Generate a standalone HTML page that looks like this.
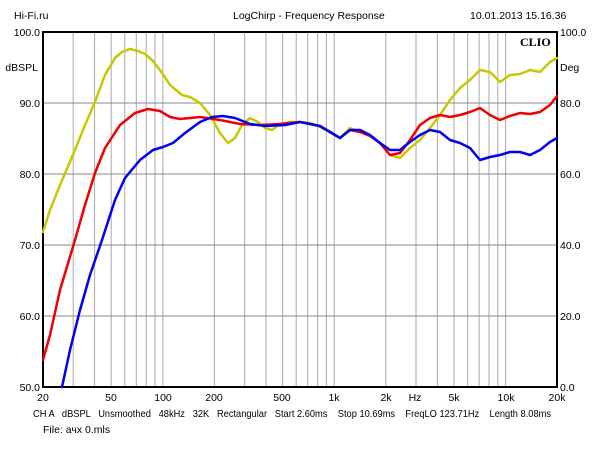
<!DOCTYPE html>
<html><head><meta charset="utf-8"><style>
body{margin:0;background:#fff;width:600px;height:450px;overflow:hidden}
svg{display:block}
text{font-family:"Liberation Sans",sans-serif;font-size:10.5px;fill:#000}
</style></head><body>
<svg width="600" height="450" xmlns="http://www.w3.org/2000/svg">
<g stroke="#aaa" stroke-width="1">
<line x1="73.2" y1="32" x2="73.2" y2="387"/><line x1="94.6" y1="32" x2="94.6" y2="387"/><line x1="111.2" y1="32" x2="111.2" y2="387"/><line x1="124.8" y1="32" x2="124.8" y2="387"/><line x1="136.3" y1="32" x2="136.3" y2="387"/><line x1="146.2" y1="32" x2="146.2" y2="387"/><line x1="155" y1="32" x2="155" y2="387"/><line x1="162.8" y1="32" x2="162.8" y2="387"/>
<line x1="214.4" y1="32" x2="214.4" y2="387"/><line x1="244.6" y1="32" x2="244.6" y2="387"/><line x1="266" y1="32" x2="266" y2="387"/><line x1="282.6" y1="32" x2="282.6" y2="387"/><line x1="296.2" y1="32" x2="296.2" y2="387"/><line x1="307.7" y1="32" x2="307.7" y2="387"/><line x1="317.6" y1="32" x2="317.6" y2="387"/><line x1="326.4" y1="32" x2="326.4" y2="387"/><line x1="334.2" y1="32" x2="334.2" y2="387"/>
<line x1="385.8" y1="32" x2="385.8" y2="387"/><line x1="416" y1="32" x2="416" y2="387"/><line x1="437.4" y1="32" x2="437.4" y2="387"/><line x1="454" y1="32" x2="454" y2="387"/><line x1="467.6" y1="32" x2="467.6" y2="387"/><line x1="479.1" y1="32" x2="479.1" y2="387"/><line x1="489" y1="32" x2="489" y2="387"/><line x1="497.8" y1="32" x2="497.8" y2="387"/><line x1="505.6" y1="32" x2="505.6" y2="387"/>
</g>
<g stroke="#888" stroke-width="1">
<line x1="43" y1="103" x2="557" y2="103"/><line x1="43" y1="174" x2="557" y2="174"/><line x1="43" y1="245" x2="557" y2="245"/><line x1="43" y1="316" x2="557" y2="316"/>
</g>
<rect x="43" y="32" width="514" height="355" fill="none" stroke="#000" stroke-width="2"/>
<g fill="none" stroke-width="2.5" stroke-linejoin="round" stroke-linecap="round">
<polyline stroke="#c8c800" points="43,232 50,210 60,185 75,150 85,125 95,102 105,75 115,58 122,52 130,49 138,51 145,54 152,60 160,70 170,85 182,95 190,97 200,103 210,115 220,133 228,143 235,138 242,125 250,118 258,122 265,128 272,130 280,124 290,122 300,122 310,123 320,127 330,132 340,138 350,128 360,132 370,136 380,143 390,155 400,158 410,148 420,140 430,128 440,115 450,100 460,88 470,80 480,70 490,72 500,82 510,75 520,74 530,70 540,72 550,62 557,58"/>
<polyline stroke="#f00000" points="43,360 50,335 60,290 75,240 85,205 95,173 105,148 120,125 135,113 148,109 160,111 170,117 180,119 200,117 220,120 240,124 260,125 280,124 300,122 310,124 320,126 330,132 340,138 350,130 360,132 370,136 380,143 390,155 400,153 410,140 420,125 430,118 440,115 450,117 460,115 470,112 480,108 490,115 500,120 510,116 520,113 530,114 540,112 550,105 557,96"/>
<polyline stroke="#0000f0" points="62,387 70,350 80,310 90,275 102,240 115,200 125,178 140,160 153,150 163,147 173,143 185,133 200,122 212,117 223,116 235,118 250,124 265,126 285,125 300,122 310,124 320,126 330,132 340,138 350,130 360,130 370,135 380,143 390,150 400,150 410,142 420,135 430,130 440,132 450,140 460,143 470,148 480,160 490,157 500,155 510,152 520,152 530,155 540,150 550,142 557,138"/>
</g>
<text x="14" y="19">Hi-Fi.ru</text>
<text x="233" y="19">LogChirp - Frequency Response</text>
<text x="470" y="19">10.01.2013 15.16.36</text>
<text x="520" y="46" style="font-family:'Liberation Serif',serif;font-weight:bold;font-size:12px">CLIO</text>
<g text-anchor="end"><text x="40" y="36">100.0</text><text x="38" y="71">dBSPL</text><text x="40" y="107">90.0</text><text x="40" y="178">80.0</text><text x="40" y="249">70.0</text><text x="40" y="320">60.0</text><text x="40" y="391">50.0</text></g>
<g><text x="560" y="36">100.0</text><text x="560" y="71">Deg</text><text x="560" y="107">80.0</text><text x="560" y="178">60.0</text><text x="560" y="249">40.0</text><text x="560" y="320">20.0</text><text x="560" y="391">0.0</text></g>
<g text-anchor="middle"><text x="43" y="401">20</text><text x="111" y="401">50</text><text x="163" y="401">100</text><text x="214" y="401">200</text><text x="282" y="401">500</text><text x="334" y="401">1k</text><text x="386" y="401">2k</text><text x="415" y="401">Hz</text><text x="454" y="401">5k</text><text x="506" y="401">10k</text><text x="557" y="401">20k</text></g>
<text x="33" y="417" textLength="518" lengthAdjust="spacingAndGlyphs" xml:space="preserve">CH A   dBSPL   Unsmoothed   48kHz   32K   Rectangular   Start 2.60ms    Stop 10.69ms    FreqLO 123.71Hz    Length 8.08ms</text>
<text x="43" y="433">File: ачх 0.mls</text>
</svg>
</body></html>
